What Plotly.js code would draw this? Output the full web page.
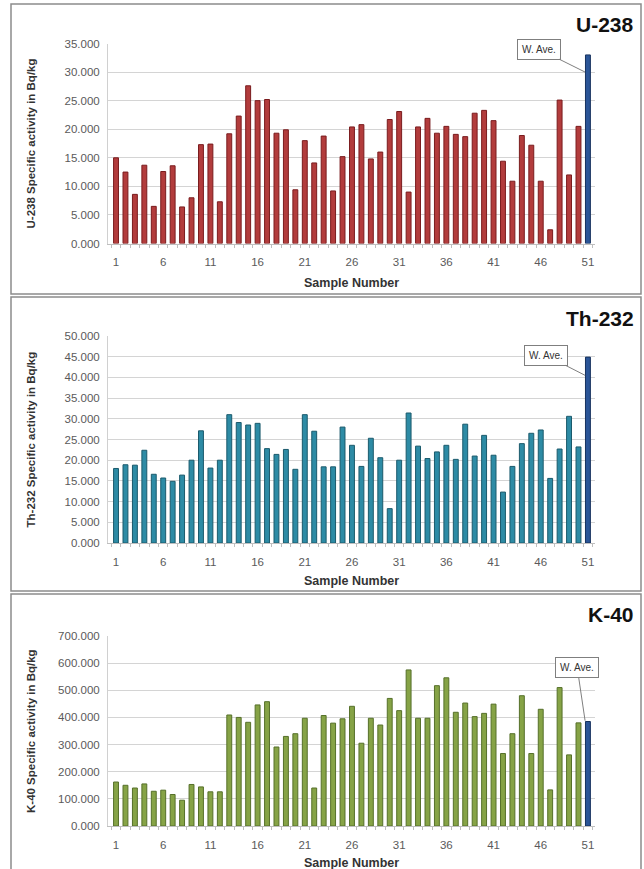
<!DOCTYPE html>
<html>
<head>
<meta charset="utf-8">
<script src="https://cdn.plot.ly/plotly-3.0.1.min.js"></script>
<style>html,body{margin:0;padding:0;background:#fff;}#chart{width:644px;height:869px;}</style>
</head>
<body>
<div id="chart"></div>
<script>
// ---- data ----
const sampleNumbers = Array.from({length: 50}, (_, i) => i + 1);
const aveNumber = 51;
const xTickVals = [1, 6, 11, 16, 21, 26, 31, 36, 41, 46, 51];
const xTickText = ["1", "6", "11", "16", "21", "26", "31", "36", "41", "46", "51"];

const u238 = [15.0,12.5,8.6,13.7,6.5,12.6,13.6,6.4,8.0,17.3,
              17.4,7.3,19.2,22.3,27.6,25.0,25.2,19.3,19.9,9.4,
              18.0,14.1,18.8,9.2,15.2,20.4,20.8,14.8,16.0,21.7,
              23.1,9.0,20.4,21.9,19.3,20.5,19.1,18.7,22.8,23.3,
              21.5,14.4,10.9,18.9,17.2,10.9,2.4,25.1,12.0,20.5];
const u238Ave = 33.0;

const th232 = [18.0,18.9,18.8,22.4,16.6,15.7,14.9,16.4,20.0,27.1,
               18.1,20.0,31.0,29.1,28.5,28.9,22.8,21.4,22.6,17.8,
               31.0,27.0,18.4,18.4,28.0,23.6,18.5,25.3,20.6,8.3,
               20.0,31.4,23.4,20.4,22.0,23.6,20.2,28.7,21.0,26.0,
               21.2,12.3,18.5,24.0,26.5,27.3,15.6,22.7,30.6,23.2];
const th232Ave = 44.9;

const k40 = [162,150,140,155,128,132,116,95,153,144,
             126,126,409,400,382,446,458,291,330,340,
             397,140,407,379,395,441,305,397,372,470,
             425,575,397,397,517,546,419,453,403,415,
             449,267,340,480,267,430,133,510,262,380];
const k40Ave = 385;

const panelTitles = ["U-238", "Th-232", "K-40"];
const yTitles = ["U-238 Specific activity in Bq/kg", "Th-232 Specific activity in Bq/kg", "K-40 Specific activity in Bq/kg"];
const xTitle = "Sample Number";
const aveLabel = "W. Ave.";

// ---- layout geometry (pixels) ----
const W = 644, H = 869;
const px = v => v / W;
const py = v => 1 - v / H;
const plotX0 = 108, plotX1 = 595;
const panels = [
  {vals: u238, ave: u238Ave, ymax: 35, dtick: 5, top: 43.5, bot: 243.5, fill: "#b23c3c", line: "#7a1c1e",
   frame: [4, 294], titleY: 24, xtY: 283, box: {x: 542, yv: 34}, arrowY: 30},
  {vals: th232, ave: th232Ave, ymax: 50, dtick: 5, top: 336, bot: 543, fill: "#2d8ba5", line: "#1b5a6c",
   frame: [297, 591], titleY: 318, xtY: 581, box: {x: 549, yv: 45.3}, arrowY: 40.5},
  {vals: k40, ave: k40Ave, ymax: 700, dtick: 100, top: 636, bot: 826, fill: "#86a346", line: "#56702a",
   frame: [594, 875], titleY: 614, xtY: 863, box: {x: 580, yv: 585}, arrowY: 388}
];
const aveFill = "#2b5597", aveLine = "#17325e";
const fontFam = "Liberation Sans, Arial, sans-serif";

const traces = [];
const layout = {
  width: W, height: H, margin: {l: 0, r: 0, t: 0, b: 0},
  paper_bgcolor: "#ffffff", plot_bgcolor: "rgba(0,0,0,0)",
  showlegend: false, bargap: 0.48, barmode: "overlay",
  annotations: [], shapes: []
};

panels.forEach((p, i) => {
  const n = i + 1;
  const xa = n === 1 ? "x" : "x" + n;
  const ya = n === 1 ? "y" : "y" + n;
  traces.push({type: "bar", x: sampleNumbers, y: p.vals, xaxis: xa, yaxis: ya,
    marker: {color: p.fill, line: {color: p.line, width: 1}}, width: 0.52, hoverinfo: "skip"});
  traces.push({type: "bar", x: [aveNumber], y: [p.ave], xaxis: xa, yaxis: ya,
    marker: {color: aveFill, line: {color: aveLine, width: 1}}, width: 0.52, hoverinfo: "skip"});

  layout["xaxis" + (n === 1 ? "" : n)] = {
    domain: [px(plotX0), px(plotX1)], anchor: ya, range: [0.15, 51.75],
    tickmode: "array", tickvals: xTickVals, ticktext: xTickText,
    showgrid: false, zeroline: false, showline: true, linecolor: "#bfbfbf", linewidth: 1,
    ticks: "", ticklabelstandoff: 8,
    minor: {ticks: "outside", ticklen: 3, tickcolor: "#bfbfbf", tickmode: "linear", tick0: 0.5, dtick: 1},
    tickfont: {family: fontFam, size: 11.5, color: "#5a5a5a"}, fixedrange: true
  };
  layout["yaxis" + (n === 1 ? "" : n)] = {
    domain: [py(p.bot), py(p.top)], anchor: xa, range: [0, p.ymax],
    tickmode: "linear", tick0: 0, dtick: p.dtick, tickformat: ".3f",
    showgrid: true, gridcolor: "#d4d4d4", gridwidth: 1, zeroline: false,
    showline: true, linecolor: "#d0d0d0", linewidth: 1, ticks: "", ticklabelstandoff: 5,
    tickfont: {family: fontFam, size: 11.5, color: "#5a5a5a"}, fixedrange: true
  };

  // panel frame
  layout.shapes.push({type: "rect", xref: "paper", yref: "paper",
    x0: px(11), x1: px(641), y0: py(p.frame[1]), y1: py(p.frame[0]),
    line: {color: "#8c8c8c", width: 1.5}, fillcolor: "rgba(0,0,0,0)", layer: "below"});

  // panel title
  layout.annotations.push({xref: "paper", yref: "paper", x: px(636), y: py(p.titleY),
    xanchor: "right", yanchor: "middle", showarrow: false, text: "<b>" + panelTitles[i] + "</b>",
    font: {family: fontFam, size: 21, color: "#111111"}});
  // y axis title
  layout.annotations.push({xref: "paper", yref: "paper", x: px(31), y: py((p.top + p.bot) / 2),
    xanchor: "center", yanchor: "middle", showarrow: false, textangle: -90,
    text: "<b>" + yTitles[i] + "</b>", font: {family: fontFam, size: 11.5, color: "#333333"}});
  // x axis title
  layout.annotations.push({xref: "paper", yref: "paper", x: px((plotX0 + plotX1) / 2), y: py(p.xtY),
    xanchor: "center", yanchor: "middle", showarrow: false,
    text: "<b>" + xTitle + "</b>", font: {family: fontFam, size: 12.5, color: "#333333"}});
  // W. Ave. callout
  const ppu = (p.bot - p.top) / p.ymax;
  const boxYpx = p.bot - p.box.yv * ppu;
  const tipYpx = p.bot - p.arrowY * ppu;
  const barXpx = plotX0 + (aveNumber - 0.15) / (51.75 - 0.15) * (plotX1 - plotX0);
  layout.annotations.push({xref: xa, yref: ya, x: aveNumber - 0.3, y: p.arrowY,
    text: aveLabel, showarrow: true, arrowhead: 0, arrowwidth: 1, arrowcolor: "#7f7f7f",
    ax: p.box.x - barXpx, ay: boxYpx - tipYpx, axref: "pixel", ayref: "pixel",
    bgcolor: "#ffffff", bordercolor: "#7f7f7f", borderwidth: 1, borderpad: 4,
    font: {family: fontFam, size: 10, color: "#333333"}});
});

Plotly.newPlot("chart", traces, layout, {staticPlot: true, displayModeBar: false});
</script>
</body>
</html>
